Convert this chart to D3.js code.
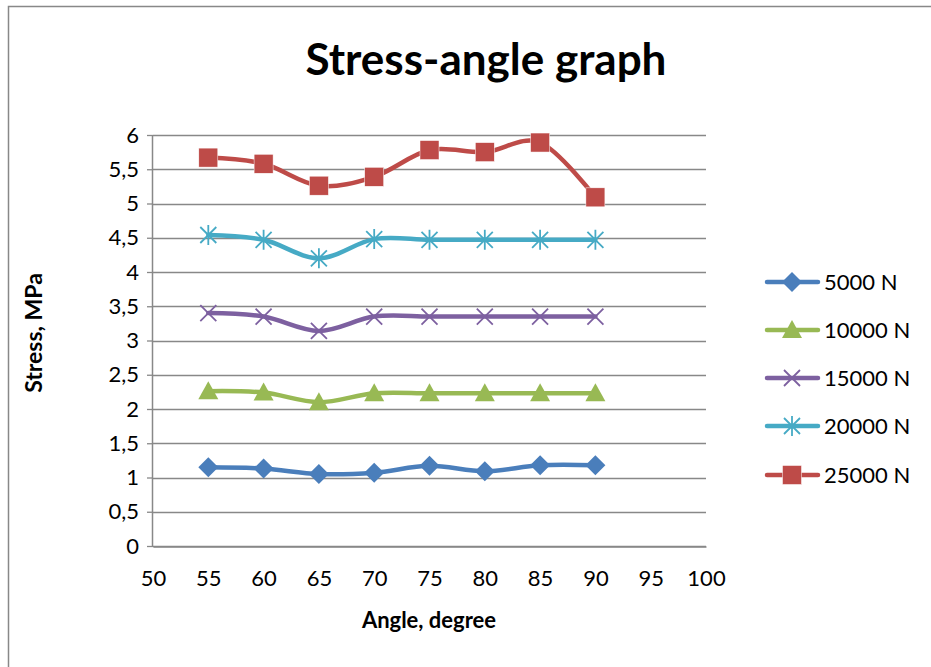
<!DOCTYPE html>
<html><head><meta charset="utf-8">
<script src="https://cdn.jsdelivr.net/npm/d3@7"></script>
<style>body{margin:0;background:#fff;} svg{display:block;font-family:Lato,"Open Sans",sans-serif;}</style>
</head><body><svg id="c" width="931" height="667"></svg>
<script>
const angles = [55, 60, 65, 70, 75, 80, 85, 90];
const s5000  = [1.15, 1.13, 1.05, 1.07, 1.17, 1.09, 1.18, 1.18];
const s10000 = [2.26, 2.24, 2.10, 2.23, 2.23, 2.23, 2.23, 2.23];
const s15000 = [3.40, 3.35, 3.14, 3.35, 3.35, 3.35, 3.35, 3.35];
const s20000 = [4.54, 4.47, 4.20, 4.48, 4.47, 4.47, 4.47, 4.47];
const s25000 = [5.67, 5.58, 5.26, 5.39, 5.78, 5.75, 5.89, 5.09];
const seriesNames = ["5000 N", "10000 N", "15000 N", "20000 N", "25000 N"];
const xTicks = [50, 55, 60, 65, 70, 75, 80, 85, 90, 95, 100];
const yTicks = [0, 0.5, 1, 1.5, 2, 2.5, 3, 3.5, 4, 4.5, 5, 5.5, 6];
const colors = ["#4A7EBB", "#98B954", "#7D60A0", "#46AAC5", "#BE4B48"];
const markers = ["diamond", "triangle", "x", "asterisk", "square"];
const data = [s5000, s10000, s15000, s20000, s25000];

const svg = d3.select("#c");
svg.append("rect").attr("x", 8.5).attr("y", 6.5).attr("width", 940).attr("height", 680)
  .attr("fill", "#fff").attr("stroke", "#888").attr("stroke-width", 1.5);

const x = d3.scaleLinear().domain([50, 100]).range([153, 706]);
const y = d3.scaleLinear().domain([0, 6]).range([546, 135]);

// gridlines
svg.append("g").selectAll("line").data(yTicks).join("line")
  .attr("x1", x(50)).attr("x2", x(100))
  .attr("y1", d => Math.round(y(d)) + 0.5).attr("y2", d => Math.round(y(d)) + 0.5)
  .attr("stroke", "#888").attr("stroke-width", 1.3);

// y axis
const fmt = d => String(d).replace(".", ",");
const yAxis = svg.append("g").attr("transform", `translate(${x(50)},0)`)
  .call(d3.axisLeft(y).tickValues(yTicks).tickFormat(fmt).tickSize(6).tickPadding(8));
yAxis.select(".domain").attr("stroke", "#888").attr("stroke-width", 1.5).attr("d", `M-0.5,${y(0)}V${y(6)}`);
yAxis.selectAll(".tick line").attr("stroke", "#888").attr("stroke-width", 1.3);
yAxis.selectAll("text").attr("font-size", 22).attr("fill", "#000").attr("font-family", "Lato, sans-serif");

// x axis
const xAxis = svg.append("g").attr("transform", `translate(0,${Math.round(y(0)) + 0.5})`)
  .call(d3.axisBottom(x).tickValues(xTicks).tickSize(0).tickPadding(24));
xAxis.select(".domain").attr("stroke", "#888").attr("stroke-width", 1.5);
xAxis.selectAll("text").attr("font-size", 22).attr("fill", "#000").attr("font-family", "Lato, sans-serif");

// title & axis titles
svg.append("text").attr("x", 486).attr("y", 75).attr("text-anchor", "middle")
  .attr("font-size", 44).attr("font-weight", "bold").text("Stress-angle graph");
svg.append("text").attr("x", 429).attr("y", 628).attr("text-anchor", "middle")
  .attr("font-size", 22).attr("font-weight", "bold").text("Angle, degree");
svg.append("text").attr("transform", `translate(34,333) rotate(-90)`).attr("text-anchor", "middle")
  .attr("dy", "0.35em")
  .attr("font-size", 23).attr("font-weight", "bold").text("Stress, MPa");

function drawMarker(g, type, color) {
  if (type === "diamond") {
    g.append("path").attr("d", "M0,-10L10,0L0,10L-10,0Z").attr("fill", color);
  } else if (type === "triangle") {
    g.append("path").attr("d", "M0,-10L10,8L-10,8Z").attr("fill", color);
  } else if (type === "square") {
    g.append("rect").attr("x", -9.5).attr("y", -9.5).attr("width", 19).attr("height", 19)
      .attr("fill", color).attr("stroke", "#fff").attr("stroke-width", 0.5);
  } else if (type === "x") {
    g.append("path").attr("d", "M-8,-8L8,8M-8,8L8,-8").attr("stroke", color).attr("stroke-width", 1.8).attr("fill", "none");
  } else if (type === "asterisk") {
    g.append("path").attr("d", "M-8,-8L8,8M-8,8L8,-8M0,-10V10").attr("stroke", color).attr("stroke-width", 1.8).attr("fill", "none");
  }
}

const line = d3.line().x(d => x(d[0])).y(d => y(d[1])).curve(d3.curveCatmullRom.alpha(0));
data.forEach((vals, i) => {
  const pts = angles.map((a, k) => [a, vals[k]]);
  svg.append("path").datum(pts).attr("d", line).attr("fill", "none")
    .attr("stroke", colors[i]).attr("stroke-width", 4.5).attr("stroke-linecap", "round");
  pts.forEach(p => {
    const g = svg.append("g").attr("transform", `translate(${x(p[0])},${y(p[1])})`);
    drawMarker(g, markers[i], colors[i]);
  });
});

// legend
const legY = [282, 330, 378, 426, 475];
seriesNames.forEach((name, i) => {
  const g = svg.append("g").attr("transform", `translate(0,${legY[i]})`);
  g.append("line").attr("x1", 767).attr("x2", 818).attr("y1", 0).attr("y2", 0)
    .attr("stroke", colors[i]).attr("stroke-width", 4.5).attr("stroke-linecap", "round");
  const m = g.append("g").attr("transform", "translate(792,0)");
  drawMarker(m, markers[i], colors[i]);
  g.append("text").attr("x", 824).attr("y", 8).attr("font-size", 22).text(name);
});
</script></body></html>
